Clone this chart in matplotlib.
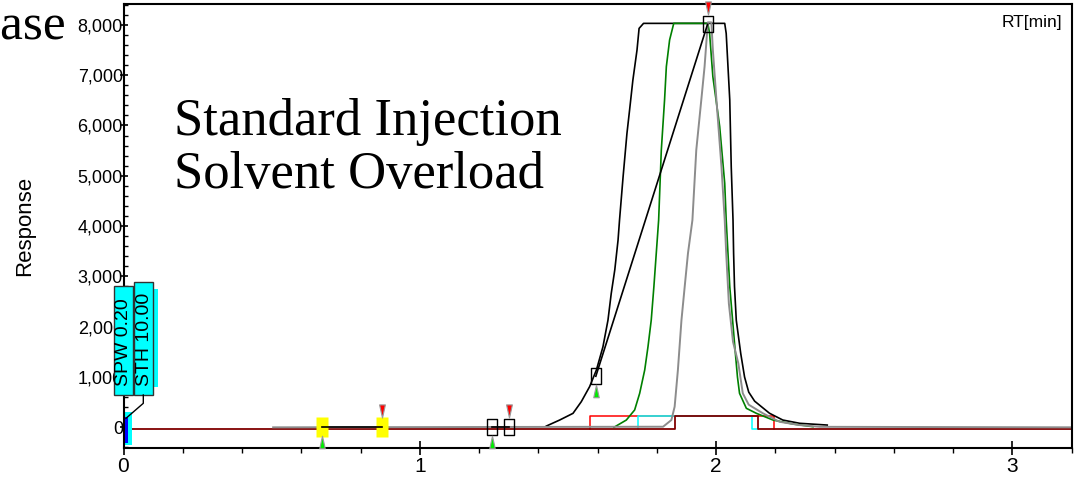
import matplotlib
matplotlib.use("Agg")
import matplotlib.pyplot as plt
from matplotlib.path import Path
from matplotlib.patches import Rectangle
from matplotlib.lines import Line2D
from matplotlib.ticker import MultipleLocator, FuncFormatter
from matplotlib.transforms import offset_copy

# chromatogram traces: retention time [min] and response
black_rt = [1.427, 1.472, 1.517, 1.545, 1.573, 1.596, 1.618, 1.635, 1.646, 1.658,
            1.669, 1.674, 1.686, 1.699, 1.708, 1.719, 1.733, 1.740, 1.755, 2.029,
            2.034, 2.046, 2.051, 2.057, 2.059, 2.062, 2.068, 2.083, 2.096, 2.110,
            2.130, 2.180, 2.225, 2.282, 2.375]
black_resp = [25, 145, 278, 510, 808, 1140, 1600, 2130, 2660, 3130,
              3720, 4120, 4980, 5840, 6310, 6900, 7500, 7930, 8030, 8030,
              7830, 6510, 5180, 4120, 3460, 2800, 2130, 1470, 1000, 700,
              520, 280, 145, 80, 45]

green_rt = [1.655, 1.697, 1.725, 1.742, 1.759, 1.770, 1.781, 1.790, 1.798, 1.806,
            1.815, 1.826, 1.832, 1.843, 1.857, 1.972, 1.978, 1.989, 2.012, 2.029,
            2.034, 2.046, 2.065, 2.072, 2.079, 2.102, 2.136, 2.192, 2.259, 2.327]
green_resp = [0, 145, 345, 676, 1140, 1600, 2130, 2800, 3460, 4120,
              5510, 6510, 7170, 7700, 8030, 8030, 7830, 6970, 5980, 4850,
              4120, 2800, 1470, 1000, 676, 378, 278, 145, 66, 12]

gray_rt = [0.505, 1.821, 1.849, 1.860, 1.871, 1.883, 1.894, 1.905, 1.920, 1.933,
           1.950, 1.961, 1.972, 1.984, 1.989, 2.001, 2.018, 2.029, 2.034, 2.043,
           2.057, 2.075, 2.090, 2.110, 2.158, 2.214, 2.282, 2.350, 3.2]
gray_resp = [0, 12, 145, 410, 1140, 2130, 2800, 3460, 4120, 5510,
             6510, 7170, 8050, 8050, 7500, 6510, 5180, 4120, 3460, 2460,
             1700, 1270, 676, 450, 278, 110, 45, 10, 0]

# integration baselines
maroon_rt = [0.024, 1.860, 1.860, 2.141, 2.141, 3.2]
maroon_resp = [-35, -35, 225, 225, -35, -35]
red_rt = [1.574, 1.574, 2.195, 2.195]
red_resp = [-35, 225, 225, -35]
cyan_rt = [1.736, 1.736, 2.122, 2.122, 2.141]
cyan_resp = [-35, 225, 225, -40, -40]

# detected peaks (start / end points)
peak_start_rt = [0.669, 1.244, 1.594]
peak_start_resp = [15, 0, 1015]
peak_end_rt = [0.871, 1.302, 1.971]
peak_end_resp = [15, 0, 8010]
peak_box = ["yellow", "open", "open"]

event_labels = ["SPW 0.20", "STH 10.00"]

W, H = 1075, 480
fig = plt.figure(figsize=(W / 100, H / 100), dpi=100)
ax = fig.add_axes([123.5 / W, 32 / H, 948.2 / W, 444 / H])


def fx(px):
    return px / W


def fy(py):
    return 1 - py / H


ax.plot(red_rt, red_resp, color="#ff0000", lw=1.1)
ax.plot(cyan_rt, cyan_resp, color="#00ffff", lw=1.1)
ax.plot(maroon_rt, maroon_resp, color="#800000", lw=1.3)
ax.plot(black_rt, black_resp, color="black", lw=1.2)
ax.plot(green_rt, green_resp, color="#008000", lw=1.2)
ax.plot(gray_rt, gray_resp, color="#8c8c8c", lw=1.4)

box = Path([(-0.3, -0.5), (0.3, -0.5), (0.3, 0.5), (-0.3, 0.5), (-0.3, -0.5)],
           [Path.MOVETO, Path.LINETO, Path.LINETO, Path.LINETO, Path.CLOSEPOLY])
tri_up = Path([(-0.22, -0.5), (0.22, -0.5), (0, 0.5), (-0.22, -0.5)],
              [Path.MOVETO, Path.LINETO, Path.LINETO, Path.CLOSEPOLY])
tri_down = Path([(-0.22, 0.5), (0.22, 0.5), (0, -0.5), (-0.22, 0.5)],
                [Path.MOVETO, Path.LINETO, Path.LINETO, Path.CLOSEPOLY])
below = offset_copy(ax.transData, fig=fig, y=-10.8, units="points")
above = offset_copy(ax.transData, fig=fig, y=11.5, units="points")

for x0, y0, x1, y1, kind in zip(peak_start_rt, peak_start_resp,
                                peak_end_rt, peak_end_resp, peak_box):
    ax.plot([x0, x1], [y0, y1], color="black", lw=1.2, zorder=4)
    if kind == "yellow":
        ax.plot([x0, x1], [y0, y1], ls="none", marker=box, ms=14,
                mfc="#ffff00", mec="none", zorder=3)
    else:
        ax.plot([x0, x1], [y0, y1], ls="none", marker=box, ms=11.5,
                mfc="none", mec="black", mew=1.0, zorder=5)
    ax.plot([x0], [y0], marker=tri_up, ms=9, mfc="#00ee00", mec="#999999",
            mew=0.8, ls="none", transform=below, clip_on=False, zorder=5)
    ax.plot([x1], [y1], marker=tri_down, ms=9.5, mfc="#ff0000", mec="#999999",
            mew=0.8, ls="none", transform=above, clip_on=False, zorder=5)

# solvent event marker at RT 0
ax.add_patch(Rectangle((0.001, -352), 0.027, 656, color="#00ffff", lw=0, zorder=2))
ax.add_patch(Rectangle((0.004, -312), 0.010, 517, color="#0000ff", lw=0, zorder=3))

ax.set_xlim(0, 3.2)
ax.set_ylim(-411, 8415)
ax.xaxis.set_major_locator(MultipleLocator(1))
ax.xaxis.set_minor_locator(MultipleLocator(0.2))
ax.yaxis.set_major_locator(MultipleLocator(1000))
ax.yaxis.set_minor_locator(MultipleLocator(200))
ax.yaxis.set_major_formatter(FuncFormatter(lambda v, p: f"{v:,.0f}"))

for s in ax.spines.values():
    s.set_linewidth(1.5)
ax.tick_params(axis="x", which="major", direction="inout", length=10, width=1.2,
               labelsize=15, pad=1.5)
ax.tick_params(axis="x", which="minor", direction="out", length=3.6, width=1)
ax.tick_params(axis="y", which="major", direction="inout", length=5.8, width=1.2,
               labelsize=13, pad=-2.5)
ax.tick_params(axis="y", which="minor", direction="in", length=3, width=1)
for lab in ax.get_xticklabels():
    lab.set_family(["Liberation Sans", "DejaVu Sans"])
for lab in ax.get_yticklabels():
    lab.set_family(["Liberation Sans", "DejaVu Sans"])

fig.text(fx(25), fy(226), "Response", rotation=90, ha="center", va="center",
         fontsize=16, family=["Liberation Sans", "DejaVu Sans"])
fig.text(fx(1062), fy(15), "RT[min]", ha="right", va="top", fontsize=12.5,
         family=["Liberation Sans", "DejaVu Sans"])

serif = ["Liberation Serif", "DejaVu Serif"]
fig.text(fx(66), fy(40), "Phase", ha="right", va="baseline", fontsize=37, family=serif)
fig.text(fx(174), fy(135), "Standard Injection", ha="left", va="baseline",
         fontsize=38, family=serif)
fig.text(fx(174), fy(188), "Solvent Overload", ha="left", va="baseline",
         fontsize=38, family=serif)

# event parameter boxes
fig.add_artist(Rectangle((fx(150), fy(387)), 8 / W, 98 / H, color="#00ffff", lw=0))
for (x0, x1, ytop), label in zip([(114, 132.7, 286), (134.3, 153.3, 282)], event_labels):
    fig.add_artist(Rectangle((fx(x0), fy(395)), (x1 - x0) / W, (395 - ytop) / H,
                             facecolor="#00ffff", edgecolor="#333333", lw=1))
    fig.text(fx((x0 + x1) / 2 + 0.5), fy(386), label, rotation=90, ha="center",
             va="bottom", fontsize=14, family=["Liberation Sans", "DejaVu Sans"])
fig.add_artist(Line2D([fx(143.3), fx(143.3), fx(126)], [fy(395), fy(403.3), fy(418.3)],
                      color="black", lw=1))

fig.savefig("out.png", dpi=100)
